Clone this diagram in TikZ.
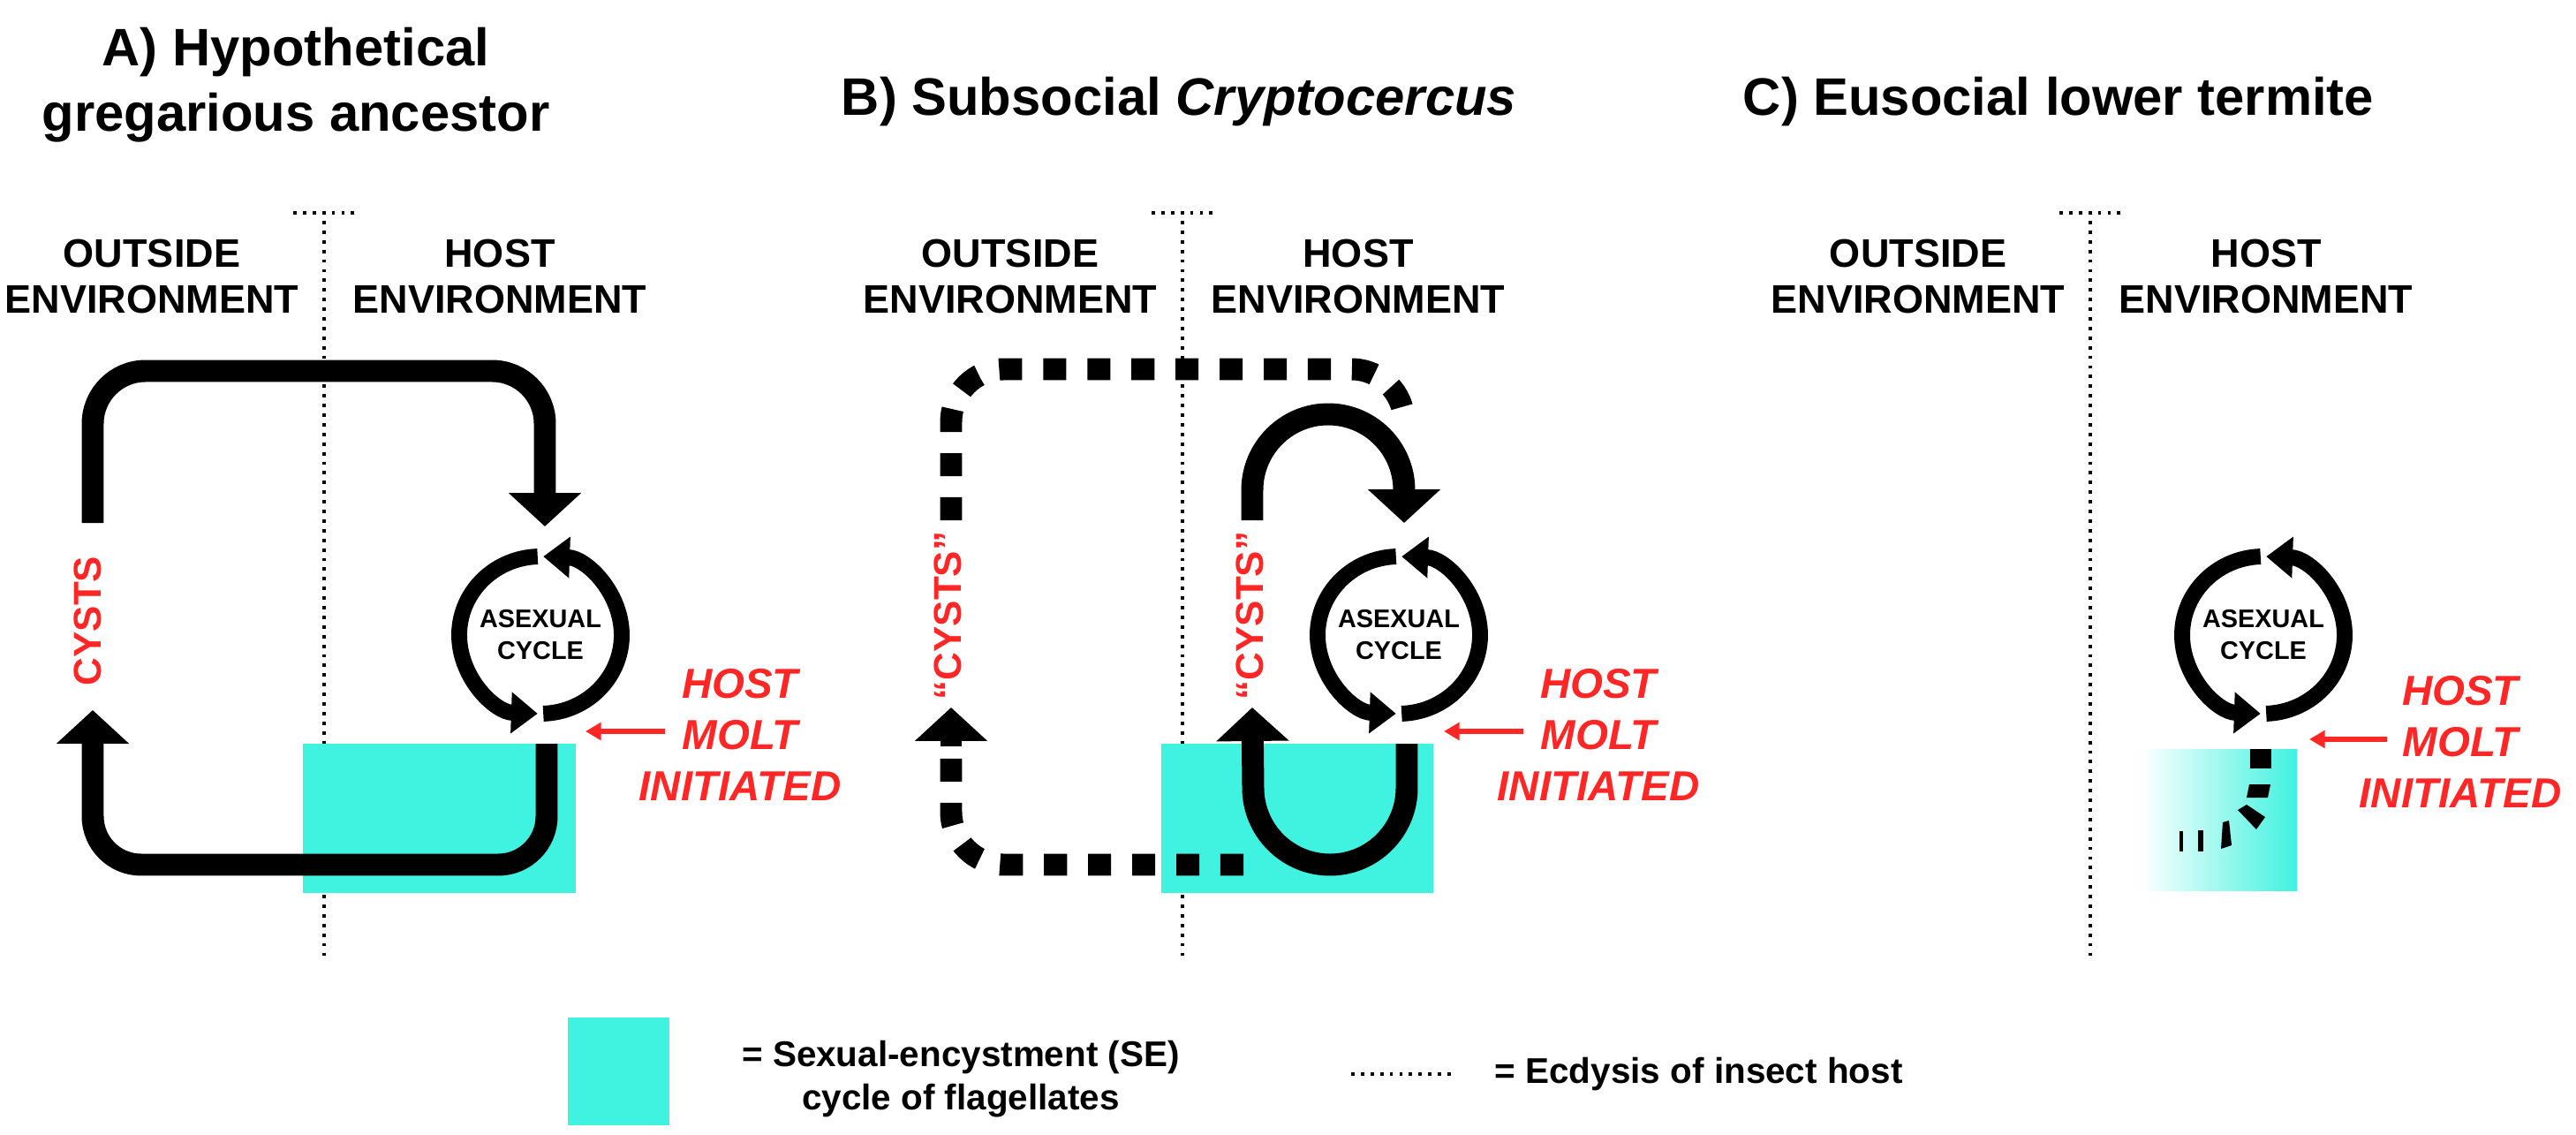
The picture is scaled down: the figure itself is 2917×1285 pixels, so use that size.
\documentclass[tikz,border=0pt]{standalone}
\usepackage{fontspec}
\setmainfont{Liberation Sans}
\usetikzlibrary{arrows.meta}
\definecolor{se}{RGB}{64,242,224}
\definecolor{rd}{RGB}{255,38,38}
\begin{document}
\begin{tikzpicture}[x=0.01cm,y=-0.01cm,
  big/.style={line width=7.1pt,line join=round},
  bigarrow/.style={big,-{Triangle[width=22.8pt,length=10.8pt]}},
  dsh/.style={line width=7.1pt,dash pattern=on 7.4pt off 6.8pt},
  ring/.style={line width=5.1pt,-{Triangle[width=12.8pt,length=8.5pt]}},
  molt/.style={rd,line width=1.8pt,-{Triangle[width=5.5pt,length=5pt]}},
  ecd/.style={line width=1.2pt,dash pattern=on 1.1pt off 2pt},
  title/.style={font=\bfseries\fontsize{17}{21}\selectfont,inner sep=0pt},
  env/.style={font=\bfseries\fontsize{12.8}{14.8}\selectfont,align=center,inner sep=0pt},
  hm/.style={font=\bfseries\itshape\fontsize{13.5}{16.5}\selectfont,text=rd,align=center,inner sep=0pt},
  cyst/.style={font=\bfseries\fontsize{12.5}{14}\selectfont,text=rd,rotate=90,inner sep=0pt},
  asx/.style={font=\bfseries\fontsize{8.2}{10.2}\selectfont,align=center,inner sep=0pt},
  leg/.style={font=\bfseries\fontsize{11.5}{14}\selectfont,align=center,inner sep=0pt}]
\useasboundingbox (0,0) rectangle (2917,1285);

% titles
\node[title,align=center] (tA) at (335,96) {A) Hypothetical\\gregarious ancestor};
\node[title,anchor=base] (tB) at (1335,131) {B) Subsocial \textit{Cryptocercus}};
\node[title,anchor=base] (tC) at (2331,131) {C) Eusocial lower termite};

% environment labels and ecdysis lines
\foreach \o/\n in {0/A,972/B,2000/C}{
  \begin{scope}[xshift=\o*0.01cm]
  \node[env] (out\n) at (172,313) {OUTSIDE\\ENVIRONMENT};
  \node[env] (host\n) at (566,313) {HOST\\ENVIRONMENT};
  \draw[ecd] (332,241) -- (403,241);
  \draw[ecd] (367,250) -- (367,1082);
  \end{scope}}

% cyan boxes
\fill[se] (343,842) rectangle (652,1011);
\fill[se] (1315,842) rectangle (1623,1011);
\shade[left color=white,right color=se] (2424,848) rectangle (2601,1008);

% rings
\foreach \cx/\n in {612/A,1584/B,2563/C}{
  \coordinate (r\n) at (\cx,719);
  \draw[ring] (r\n) ++(88:92 and 89) arc[start angle=88,end angle=-88,x radius=92,y radius=89];
  \draw[ring] (r\n) ++(-92:92 and 89) arc[start angle=-92,end angle=-268,x radius=92,y radius=89];
  \node[asx] (as\n) at (r\n) {ASEXUAL\\CYCLE};
}

% host molt
\foreach \x/\y/\ax/\n in {838/832/753/A,1810/832/1725/B,2786/840/2703/C}{
  \node[hm] (hm\n) at (\x,\y) {HOST\\MOLT\\INITIATED};
}
\draw[molt] (753,828) -- (663,828);
\draw[molt] (1725,828) -- (1635,828);
\draw[molt] (2703,837) -- (2615,837);

% panel A loops
\draw[bigarrow,rounded corners=17pt] (105,592) -- (105,420) -- (617,420) -- (617,596);
\draw[bigarrow,rounded corners=15.6pt] (619,842) -- (619,979) -- (105,979) -- (105,804);
\node[cyst] (cA) at (99,703) {CYSTS};

% panel B
\draw[dsh,rounded corners=17pt] (1077,589) -- (1077,418) -- (1590,418) -- (1590,480);
\draw[dsh,rounded corners=17pt] (1408,979) -- (1077,979) -- (1077,850);
\draw[bigarrow] (1077,845) -- (1077,801);
\draw[bigarrow] (1418,589) -- (1418,555) arc[start angle=180,end angle=360,radius=86] -- (1590,592);
\draw[bigarrow] (1593,842) -- (1593,892) arc[start angle=0,end angle=180,radius=87] -- (1418,801);
\node[cyst] (cB1) at (1073,697) {“CYSTS”};
\node[cyst] (cB2) at (1415,697) {“CYSTS”};

% panel C fading dashes
\fill (2548,848) rectangle (2572,870);
\fill (2547,888) -- (2571,888) -- (2568,903) -- (2544,903) -- cycle;
\fill (2534,917) -- (2544,911) -- (2565,925) -- (2555,939) -- cycle;
\fill (2517,931) -- (2524,929) -- (2527,957) -- (2515,961) -- cycle;
\fill (2489,940) rectangle (2495,964);
\fill (2468,941) rectangle (2472,964);

% legend
\fill[se] (643,1152) rectangle (758,1274);
\node[leg] (l1) at (1088,1222) {= Sexual-encystment (SE)\\cycle of flagellates};
\draw[ecd] (1530,1216) -- (1645,1216);
\node[leg,anchor=west] (l2) at (1692,1216) {= Ecdysis of insect host};
\end{tikzpicture}
\end{document}
